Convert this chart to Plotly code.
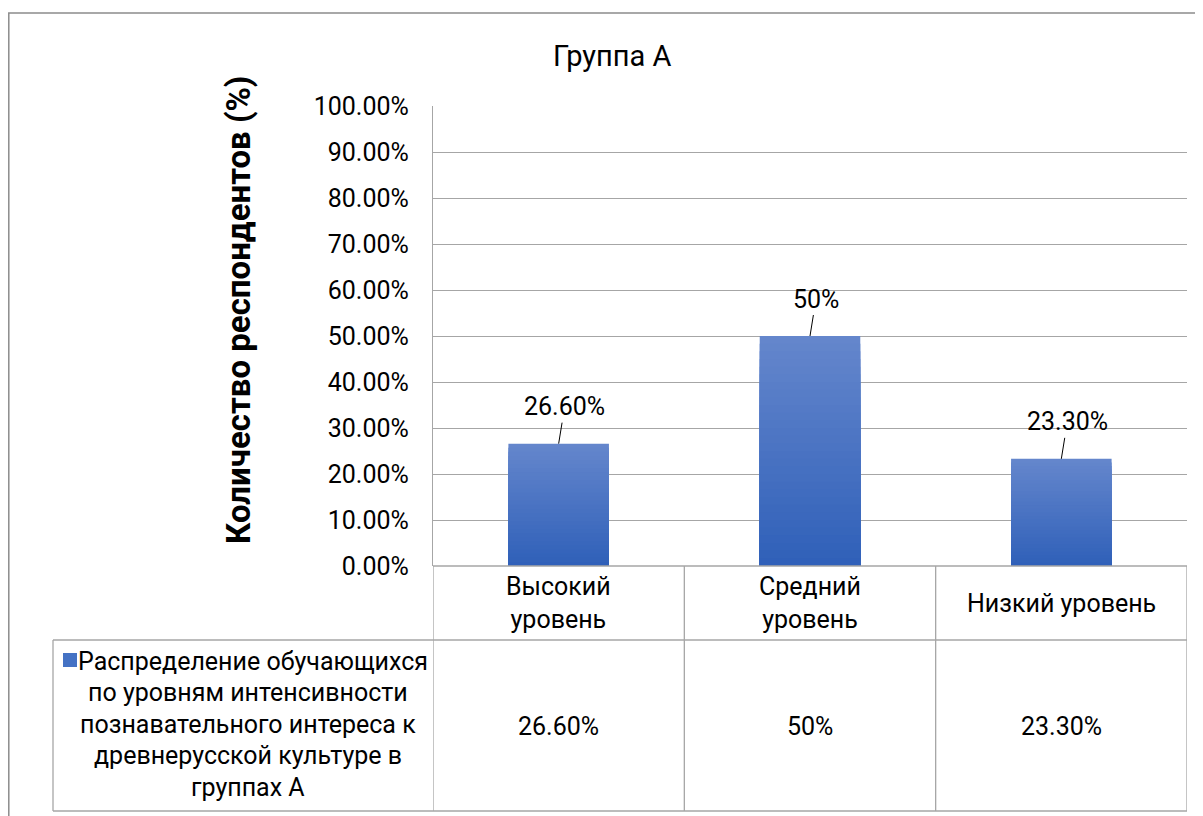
import plotly.graph_objects as go

# --- Data ---
categories = ["Высокий<br>уровень", "Средний<br>уровень", "Низкий уровень"]
values = [0.266, 0.50, 0.233]
value_labels = ["26.60%", "50%", "23.30%"]
series_name_lines = [
    "Распределение обучающихся",
    "по уровням интенсивности",
    "познавательного интереса к",
    "древнерусской культуре в",
    "группах А",
]
title = "Группа А"
y_title = "Количество респондентов (%)"

# --- Layout helpers ---
# page body has an 8px margin, so work in reference pixels and shift by 8
OFF = 8
W, H = 1195, 808
FONT = "Roboto, 'Open Sans', sans-serif"
GRID = "#A6A6A6"
BORDER = "#8C8C8C"


def px(x):
    return (x - OFF) / W


def py(y):
    return 1 - (y - OFF) / H


xs = list(range(len(categories)))

# gradient: lighter at top, darker at bottom of each bar
top_rgb = (100, 134, 204)
bot_rgb = (46, 95, 184)
steps = 30

fig = go.Figure()
for k in range(steps, 0, -1):
    t = k / steps
    c = tuple(round(b + (tp - b) * t) for tp, b in zip(top_rgb, bot_rgb))
    fig.add_trace(go.Bar(
        x=xs,
        y=[v * k / steps for v in values],
        width=0.4,
        marker=dict(color="rgb(%d,%d,%d)" % c, line=dict(width=0)),
        showlegend=False,
        hoverinfo="skip",
    ))

shapes = []
line = dict(color=GRID, width=1.3)
# outer chart border
shapes.append(dict(type="rect", xref="paper", yref="paper",
                   x0=px(8.8), x1=px(1220), y0=py(13), y1=py(840),
                   line=dict(color=BORDER, width=1.5)))
# table rows
for yy, x0 in [(566, 433), (640, 53), (811, 53)]:
    shapes.append(dict(type="line", xref="paper", yref="paper",
                       x0=px(x0), x1=px(1187), y0=py(yy), y1=py(yy), line=line))
# legend cell left edge
shapes.append(dict(type="line", xref="paper", yref="paper",
                   x0=px(53), x1=px(53), y0=py(640), y1=py(811), line=line))
# column separators
for b in [-0.5, 0.5, 1.5, 2.5]:
    shapes.append(dict(type="line", xref="x", yref="paper",
                       x0=b, x1=b, y0=py(566), y1=py(811), line=line))
# legend key
shapes.append(dict(type="rect", xref="paper", yref="paper",
                   x0=px(63), x1=px(77), y0=py(653), y1=py(667),
                   fillcolor="rgb(68,114,196)", line=dict(width=0)))

annotations = []
for x, v, lab in zip(xs, values, value_labels):
    annotations.append(dict(
        x=x, y=v, xref="x", yref="y", text=lab, showarrow=True,
        arrowhead=0, arrowwidth=1, arrowcolor="black", standoff=0,
        ax=6, ay=-37, font=dict(size=25, color="black", family=FONT),
    ))
for x, cat, lab in zip(xs, categories, value_labels):
    annotations.append(dict(
        x=x, y=py(603), xref="x", yref="paper", text=cat, showarrow=False,
        font=dict(size=25, color="black", family=FONT), yanchor="middle",
    ))
    annotations.append(dict(
        x=x, y=py(726), xref="x", yref="paper", text=lab, showarrow=False,
        font=dict(size=25, color="black", family=FONT), yanchor="middle",
    ))
for i, ln in enumerate(series_name_lines):
    annotations.append(dict(
        x=px(253 if i == 0 else 248), y=py(661 + 31.5 * i), xref="paper", yref="paper",
        text=ln, showarrow=False, xanchor="center", yanchor="middle",
        font=dict(size=25, color="black", family=FONT),
    ))
annotations.append(dict(
    x=px(612), y=py(56), xref="paper", yref="paper", text=title,
    showarrow=False, xanchor="center", yanchor="middle",
    font=dict(size=29, color="black", family=FONT),
))
annotations.append(dict(
    x=px(238), y=py(310), xref="paper", yref="paper", text="<b>" + y_title + "</b>",
    showarrow=False, textangle=-90, yanchor="middle", xanchor="center",
    font=dict(size=33, color="black", family=FONT),
))

fig.update_layout(
    width=W, height=H,
    margin=dict(l=0, r=0, t=0, b=0),
    paper_bgcolor="white", plot_bgcolor="white",
    barmode="overlay",
    showlegend=False,
    shapes=shapes,
    annotations=annotations,
    xaxis=dict(domain=[px(433), px(1187)], range=[-0.5, 2.5], showticklabels=False,
               showgrid=False, zeroline=False, showline=False, fixedrange=True),
    yaxis=dict(domain=[py(566), py(106)], range=[0, 1], dtick=0.1, tickformat=".2%",
               showgrid=True, gridcolor=GRID, gridwidth=1.3, showline=True,
               linecolor=GRID, linewidth=1.3, zeroline=False, ticks="",
               ticklabelstandoff=18, automargin=False,
               tickfont=dict(size=25, color="black", family=FONT)),
)

fig.write_html("out.html")
